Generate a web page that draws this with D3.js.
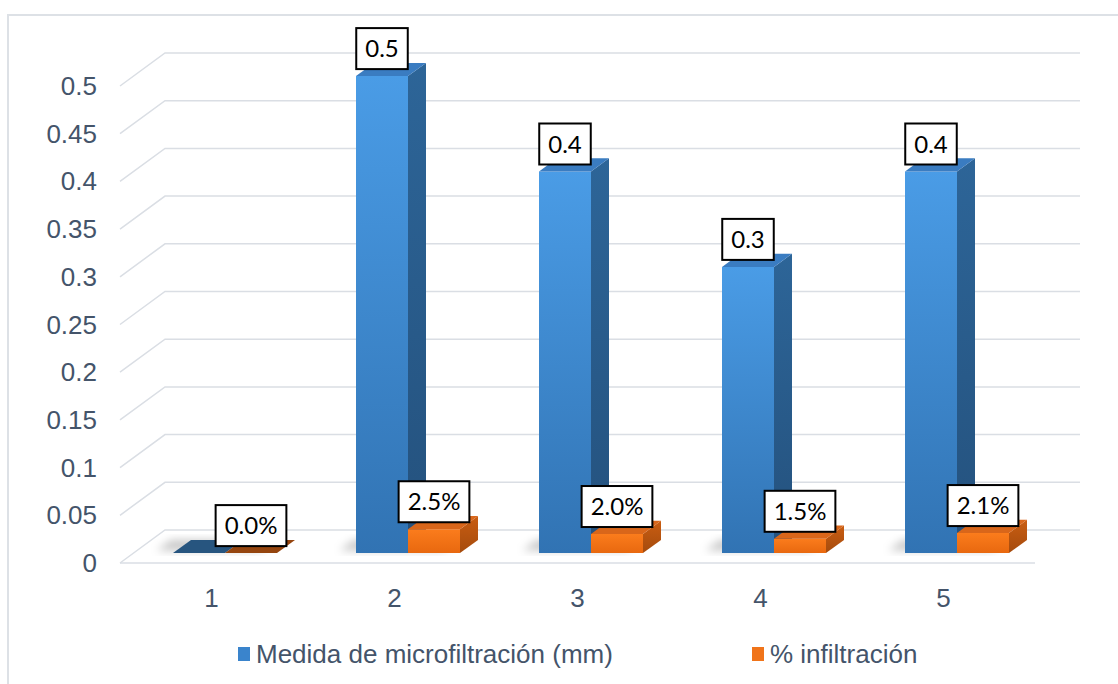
<!DOCTYPE html>
<html>
<head>
<meta charset="utf-8">
<script src="https://cdn.jsdelivr.net/npm/d3@7"></script>
<style>
  body { margin: 0; background: #fff; }
  svg { display: block; }
</style>
</head>
<body>
<div id="chart"></div>
<script>
const width = 1118, height = 684;

// data
const categories = ["1", "2", "3", "4", "5"];
const microfiltracion = [0, 0.5, 0.4, 0.3, 0.4];
const infiltracion = [0, 0.025, 0.02, 0.015, 0.021];
const yTicks = [0, 0.05, 0.1, 0.15, 0.2, 0.25, 0.3, 0.35, 0.4, 0.45, 0.5];
const seriesNames = ["Medida de microfiltración (mm)", "% infiltración"];

// depth of the 3d floor (full depth) and bar depth range
const DX = 45, DY = 33;
const Z0 = 0.3, Z1 = 0.7;

let x = d3.scaleBand().domain(categories).range([120, 1035]);
let inner = d3.scaleBand().domain([0, 1]).range([-52, 52]);
let y = d3.scaleLinear().domain([0, 0.5]).range([563, 86]);

const proj = (px, v, z) => [px + z * DX, y(v) - z * DY];
const poly = pts => pts.map(p => p.join(",")).join(" ");

let svg = d3.select("#chart")
    .append("svg")
    .attr("width", width)
    .attr("height", height);

let defs = svg.append("defs");

function grad(id, c1, c2) {
    let g = defs.append("linearGradient")
        .attr("id", id)
        .attr("x1", 0).attr("y1", 0).attr("x2", 0).attr("y2", 1);
    g.append("stop").attr("offset", "0%").attr("stop-color", c1);
    g.append("stop").attr("offset", "100%").attr("stop-color", c2);
}
grad("blueFront", "#4a9ce6", "#3173b3");
grad("blueSide", "#2d6598", "#24517d");
grad("orangeFront", "#fb7c1c", "#e8680f");
grad("orangeSide", "#c95d12", "#a54b0d");

defs.append("filter")
    .attr("id", "blur")
    .attr("x", "-50%").attr("y", "-50%").attr("width", "200%").attr("height", "200%")
    .append("feGaussianBlur")
    .attr("stdDeviation", 4);

const colors = [
    { front: "url(#blueFront)", side: "url(#blueSide)", top: "#3a7cc1", flat: "#27557f", legend: "#3a84cc" },
    { front: "url(#orangeFront)", side: "url(#orangeSide)", top: "#d9661a", flat: "#95450f", legend: "#f0741a" }
];

// chart border
svg.append("rect")
    .attr("x", 8).attr("y", 15)
    .attr("width", 1200).attr("height", 800)
    .attr("fill", "none")
    .attr("stroke", "#dde1e6")
    .attr("stroke-width", 2);

// gridlines (side wall diagonal + back wall)
const x0 = x.range()[0], x1 = x.range()[1];
svg.append("g")
    .selectAll("polyline")
    .data(yTicks)
    .join("polyline")
    .attr("points", t => poly([proj(x0, t, 0), proj(x0, t, 1), proj(x1, t, 1)]))
    .attr("fill", "none")
    .attr("stroke", "#dadee4")
    .attr("stroke-width", 1.5);

// floor front edge
svg.append("line")
    .attr("x1", x0).attr("x2", x1)
    .attr("y1", y(0)).attr("y2", y(0))
    .attr("stroke", "#dadee4")
    .attr("stroke-width", 1.5);

// y axis labels
svg.append("g")
    .selectAll("text")
    .data(yTicks)
    .join("text")
    .attr("x", 97)
    .attr("y", t => y(t) + 9)
    .attr("text-anchor", "end")
    .attr("font-family", "Liberation Sans, Arial, sans-serif")
    .attr("font-size", 26)
    .attr("fill", "#44546a")
    .text(t => d3.format("")(+t.toFixed(2)));

// x axis labels
svg.append("g")
    .selectAll("text")
    .data(categories)
    .join("text")
    .attr("x", c => x(c) + x.bandwidth() / 2)
    .attr("y", 607)
    .attr("text-anchor", "middle")
    .attr("font-family", "Liberation Sans, Arial, sans-serif")
    .attr("font-size", 26)
    .attr("fill", "#44546a")
    .text(c => c);

let bars = [];
categories.forEach((c, i) => {
    [microfiltracion[i], infiltracion[i]].forEach((v, s) => {
        let cx = x(c) + x.bandwidth() / 2;
        bars.push({ c, s, v, xa: cx + inner(s), xb: cx + inner(s) + inner.bandwidth() });
    });
});

// soft shadow on the floor
svg.append("g")
    .attr("filter", "url(#blur)")
    .selectAll("polygon")
    .data(categories)
    .join("polygon")
    .attr("points", c => {
        let cx = x(c) + x.bandwidth() / 2 - 20;
        return poly([proj(cx - 52, 0, Z0 + 0.08), proj(cx + 52, 0, Z0 + 0.08),
                     proj(cx + 52, 0, Z1), proj(cx - 52, 0, Z1)]);
    })
    .attr("fill", "#000")
    .attr("opacity", 0.22);

// bars
let barG = svg.append("g");
bars.forEach(b => {
    let col = colors[b.s];
    let g = barG.append("g");
    if (b.v > 0) {
        g.append("polygon")
            .attr("points", poly([proj(b.xb, 0, Z0), proj(b.xb, b.v, Z0), proj(b.xb, b.v, Z1), proj(b.xb, 0, Z1)]))
            .attr("fill", col.side);
        g.append("polygon")
            .attr("points", poly([proj(b.xa, b.v, Z0), proj(b.xb, b.v, Z0), proj(b.xb, 0, Z0), proj(b.xa, 0, Z0)]))
            .attr("fill", col.front);
    }
    g.append("polygon")
        .attr("points", poly([proj(b.xa, b.v, Z0), proj(b.xb, b.v, Z0), proj(b.xb, b.v, Z1), proj(b.xa, b.v, Z1)]))
        .attr("fill", b.v > 0 ? col.top : col.flat);
});

// data labels (the zero microfiltration value has no label in the original)
const fmt = [d3.format(".1f"), d3.format(".1%")];
let labelG = svg.append("g");
bars.filter(b => !(b.s === 0 && b.v === 0)).forEach(b => {
    let cx = proj((b.xa + b.xb) / 2, b.v, Z0)[0];
    let bottom = proj(b.xa, b.v, Z0)[1] - 7;
    let g = labelG.append("g");
    let rect = g.append("rect");
    let t = g.append("text")
        .attr("x", cx)
        .attr("y", bottom - 12)
        .attr("text-anchor", "middle")
        .attr("font-family", "Lato, Carlito, Calibri, sans-serif")
        .attr("font-size", 24)
        .attr("fill", "#000")
        .text(fmt[b.s](b.v));
    let w = t.node().getComputedTextLength() + 18;
    rect.attr("x", cx - w / 2)
        .attr("y", bottom - 41)
        .attr("width", w)
        .attr("height", 41)
        .attr("fill", "#fff")
        .attr("stroke", "#000")
        .attr("stroke-width", 2);
});

// legend
const legendX = [238, 752];
let legend = svg.append("g")
    .selectAll("g")
    .data(seriesNames)
    .join("g")
    .attr("transform", (d, i) => `translate(${legendX[i]},0)`);
legend.append("rect")
    .attr("x", 0).attr("y", 647)
    .attr("width", 12).attr("height", 14)
    .attr("fill", (d, i) => colors[i].legend);
legend.append("text")
    .attr("x", 18)
    .attr("y", 663)
    .attr("font-family", "Liberation Sans, Arial, sans-serif")
    .attr("font-size", 26)
    .attr("fill", "#44546a")
    .text(d => d);
</script>
</body>
</html>
